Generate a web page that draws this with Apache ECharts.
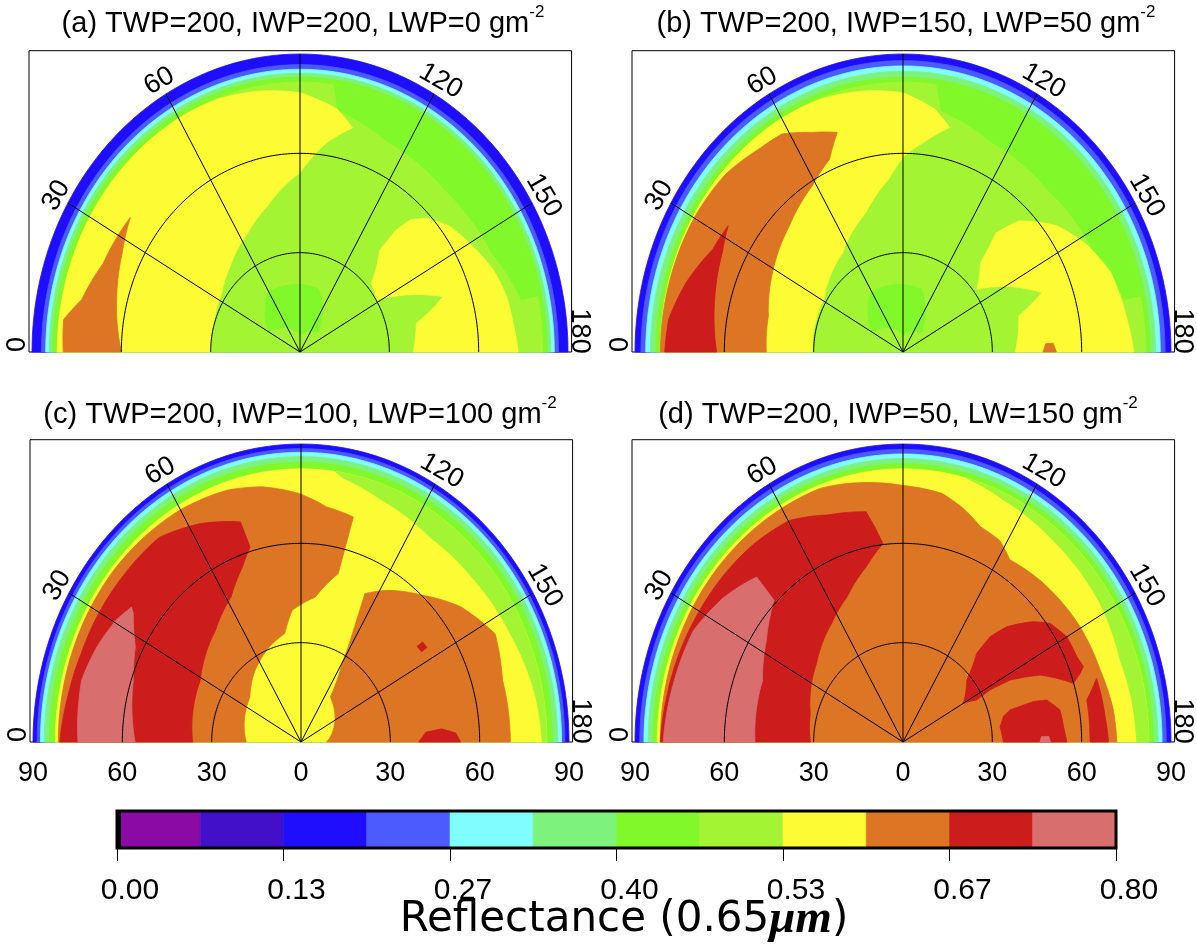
<!DOCTYPE html>
<html>
<head>
<meta charset="utf-8">
<script src="https://cdn.jsdelivr.net/npm/echarts@6/dist/echarts.min.js"></script>
<style>
html,body{margin:0;padding:0;background:#fff;}
#chart{width:1197px;height:950px;}
</style>
</head>
<body>
<div id="chart"></div>
<script>
// ---------------- data ----------------
// reflectance level edges and colours of the colour bar
const levelEdges = [0, 0.0667, 0.1333, 0.2, 0.2667, 0.3333, 0.4, 0.4667, 0.5333, 0.6, 0.6667, 0.7333, 0.8];
const levelColors = ['#8b0aa5', '#4210c8', '#1f0dfe', '#4b5bfe', '#80fdfe', '#7df27d',
                     '#80f82a', '#a3f533', '#fdfb33', '#dc7524', '#cc1c1c', '#d86e6e'];
const colorbarTicks = [0, 0.1333, 0.2667, 0.4, 0.5333, 0.6667, 0.8];
const zenithTicks = [-90, -60, -30, 0, 30, 60, 90];
const azimuthLabels = [0, 30, 60, 120, 150, 180];
const spokeAngles = [30, 60, 90, 120, 150];
const ringRadii = [30, 60];
const outerRadius = 90;

const panelTitles = [
  ['(a) TWP=200, IWP=200, LWP=0 gm', '-2'],
  ['(b) TWP=200, IWP=150, LWP=50 gm', '-2'],
  ['(c) TWP=200, IWP=100, LWP=100 gm', '-2'],
  ['(d) TWP=200, IWP=50, LW=150 gm', '-2']
];
const colorbarTitle = ['Reflectance (0.65', '\u03bcm', ')'];

// limb bands: [outer view zenith, reflectance], painted from the outside in
const limbA = [[90,0.17],[86.8,0.23],[85.4,0.30],[84.2,0.37],[83,0.43],[81.5,0.50]];
const limbB = [[90,0.17],[88,0.23],[86.4,0.30],[84.8,0.37],[83,0.43],[81.5,0.50]];
const limbC = [[90,0.17],[88.6,0.23],[87.5,0.30],[86.2,0.37],[84.5,0.43],[82.5,0.57]];
const limbD = [[90,0.17],[88.4,0.23],[87,0.30],[85.6,0.37],[84,0.43],[82.5,0.57]];

// contour regions: [reflectance, outline as [relative azimuth, view zenith] points]
const regionsA = [
  [0.43, [[98,81.5],[168,81.5],[168,76],[155,71],[135,69],[115,70],[100,74]]],
  [0.43, [[30,12],[59,21],[82,20.5],[108,20],[136,8.5],[90,5]]],
  [0.57, [[0,30],[19,30.4],[34,31.7],[48,35],[64,40],[76,45.4],[90,54.2],[98,63.8],[104.6,70],[99.7,74.4],[90,78.3],[80,80],[70,81.2],[60,81.5],[0,81.5]]],
  [0.63, [[0,60],[16,64],[26.7,66.8],[35.5,70],[22,71.3],[12.2,75],[7,80],[0,79.5]]],
  [0.57, [[180,38],[167.5,40],[160.8,50.9],[148.6,30.1],[139.2,31.7],[131,40.8],[131.3,49.1],[132.8,54.3],[136.4,58.6],[143,63],[151.4,66.3],[159.1,69.5],[166.5,71.4],[173.1,72.1],[180,73.3]]]
];
const regionsB = [
  [0.43, [[98,81.5],[168,81.5],[168,76],[155,71],[135,69],[115,70],[100,74]]],
  [0.43, [[30,12],[59,21],[82,20.5],[108,20],[136,8.5],[90,5]]],
  [0.57, [[0,30.5],[30.9,31],[56,36.2],[73.5,43.9],[84.7,52.4],[90.4,59.2],[96.1,63.6],[103,69.6],[98.3,74.1],[90,78.3],[80,80],[70,81.2],[60,81.5],[0,81.5]]],
  [0.63, [[0,45.9],[13.5,46.5],[31,50.5],[44.9,53.9],[58.7,58.7],[67,63.2],[71.6,69.9],[65.3,73],[58.3,77.4],[51.6,78.1],[42,80.2],[30,81],[0,81.5]]],
  [0.70, [[0,62.6],[14.1,65.2],[26.3,67.7],[33,70],[25.9,71],[16,75.8],[7.2,79.3],[0,80]]],
  [0.57, [[180,37.7],[164.3,40.4],[159,50],[142.7,31.2],[134,37.5],[131,47.7],[134.5,55.5],[143.7,64.3],[152.7,69.9],[161,73.8],[171.7,75.7],[180,77.5]]],
  [0.63, [[180,47],[177,48],[177,50.5],[180,51.5]]]
];
const regionsC = [
  [0.50, [[98,82.5],[180,82.5],[180,81],[170,80],[155,77.5],[140,76],[125,75.5],[110,78],[100,81]]],
  [0.63, [[0,18.4],[38.5,21.9],[52.5,26],[69.6,30.6],[80.5,33.2],[85.7,39.9],[96.2,44],[103.8,52.4],[104.5,70.2],[96.9,71.5],[89.7,75],[80.3,78.2],[71.9,80],[60,81],[40,81.5],[0,81.5]]],
  [0.70, [[0,36.4],[28.8,38.6],[49.6,44.3],[61.8,49.7],[69.6,56.4],[73.8,61.3],[73,69.5],[62.9,74.1],[52.4,78],[40,78],[20,78.5],[10,79.5],[0,81]]],
  [0.77, [[0,55.7],[18.3,59.3],[27.3,62.6],[34.6,68.4],[35.6,70],[30.6,72.2],[22.7,74.3],[14.2,76],[0,74.9]]],
  [0.63, [[180,8.6],[126,16.8],[120.3,27.3],[117.6,38],[115.6,49.7],[122.5,54.3],[132.6,60.2],[142.7,67.4],[153.4,72.9],[164.6,70.2],[180,70.3]]],
  [0.70, [[180,39.5],[176,42],[175.2,47.4],[177,52],[180,53.6]]],
  [0.70, [[143.5,48.5],[146,48.8],[146,51],[143.5,50.8]]]
];
const regionsD = [
  [0.50, [[105,82.5],[180,82.5],[180,78.5],[172.9,78],[161.2,77],[147.7,78.3],[130,79],[115,80.5]]],
  [0.63, [[0,0],[180,0],[180,71.8],[172.2,71.3],[161.8,69.7],[149.7,68.9],[133.3,67.1],[123.1,65.7],[118.1,69],[111.9,70],[105.4,73.7],[100,76.2],[90,77.5],[76.4,80.3],[70,81.5],[0,81.5]]],
  [0.70, [[0,31.1],[15.4,32.3],[39.2,37.5],[56.2,43.1],[66.8,47.7],[76.8,54.3],[83.6,60.3],[79.9,70.6],[70,73],[60.4,77],[50,78],[30,79],[10,80.5],[0,81.5]]],
  [0.77, [[0,49.7],[21.5,50.7],[33.8,55.2],[44.7,60.9],[45.4,70],[36.1,74.3],[25.6,78],[13.6,79],[0,80.5]]],
  [0.70, [[150,23.4],[138.9,28.4],[132.7,36.5],[132.6,43.2],[135,49.2],[140.3,56.9],[144,61],[150,63.5],[156.1,63.8],[159.4,64.7],[160.8,63],[162.8,59.9],[156.3,50.3],[152.5,40.5],[151.7,33.2],[152.8,27.8]]],
  [0.70, [[163.5,67.8],[168.4,63],[180,62.8],[180,69],[173.5,68.3]]],
  [0.70, [[180,33.7],[172,32.9],[167,34.6],[164.9,37.2],[164.4,45.5],[165.3,49.9],[169.6,53.6],[175.1,54.1],[180,55]]],
  [0.77, [[180,46],[178,46.5],[178,49],[180,49.5]]]
];

// ---------------- layout (pixels) ----------------
const PX_X = 2.978, PX_Y = 3.311;      // pixels per degree of view zenith, horizontal / vertical
const XMIN = -91, XMAX = 91.2;
const layout = [
  {limb: limbA, regions: regionsA, cx: 300, bottom: 352, ymax: 91,   tx: 303, ty: 4,   labels: false},
  {limb: limbB, regions: regionsB, cx: 903, bottom: 352, ymax: 91,   tx: 906, ty: 4,   labels: false},
  {limb: limbC, regions: regionsC, cx: 301, bottom: 742, ymax: 91.3, tx: 300, ty: 395, labels: true},
  {limb: limbD, regions: regionsD, cx: 903, bottom: 742, ymax: 91.3, tx: 898, ty: 395, labels: true}
];

const D2R = Math.PI / 180;
function polar(r, phi) { return [-r * Math.cos(phi * D2R), r * Math.sin(phi * D2R)]; }
function colorOf(v) {
  for (let i = 0; i < levelColors.length; i++) if (v < levelEdges[i + 1]) return levelColors[i];
  return levelColors[levelColors.length - 1];
}

function makeShapes(p) {
  // painter's order: limb half-disks from the outside in, then contour regions
  const shapes = p.limb.map(b => [b[1], [[0, 0], [180, 0], [180, b[0]], [0, b[0]]]]);
  return shapes.concat(p.regions);
}
function regionRenderer(shapes) {
  return function (params, api) {
    const shp = shapes[params.dataIndex];
    const outline = shp[1], pts = [];
    for (let k = 0; k < outline.length; k++) {
      const a = outline[k], b = outline[(k + 1) % outline.length];
      const steps = Math.max(1, Math.ceil(Math.abs(b[0] - a[0]) / 2));
      for (let s = 0; s < steps; s++) {
        const t = s / steps;
        pts.push(api.coord(polar(a[1] + (b[1] - a[1]) * t, a[0] + (b[0] - a[0]) * t)));
      }
    }
    const c = colorOf(shp[0]);
    return {type: 'polygon', shape: {points: pts}, style: {fill: c, stroke: c, lineWidth: 0.8}};
  };
}
function renderRing(params, api) {
  const r = api.value(0), pts = [];
  for (let p = 0; p <= 180; p += 1) pts.push(api.coord(polar(r, p)));
  return {type: 'polyline', shape: {points: pts}, style: {stroke: '#000', lineWidth: 1, fill: null}};
}
function renderSpoke(params, api) {
  const a = api.value(0);
  const p0 = api.coord([0, 0]), p1 = api.coord(polar(outerRadius, a));
  return {type: 'line', shape: {x1: p0[0], y1: p0[1], x2: p1[0], y2: p1[1]}, style: {stroke: '#000', lineWidth: 1}};
}
function renderAngleLabel(params, api) {
  const a = api.value(0);
  let pos, align = 'center';
  if (a === 0) { pos = api.coord([-95, 0]); align = 'left'; }
  else if (a === 180) { pos = api.coord([94, -0.5]); align = 'right'; }
  else pos = api.coord(polar(94.5, a));
  return {type: 'text', x: pos[0], y: pos[1], rotation: (90 - a) * D2R,
    style: {text: String(a), fill: '#000', fontSize: 27, fontFamily: 'Liberation Sans', align: align, verticalAlign: 'middle'}};
}

const grids = [], xAxes = [], yAxes = [], series = [], titles = [];
layout.forEach((p, i) => {
  grids.push({left: p.cx + XMIN * PX_X, width: (XMAX - XMIN) * PX_X, top: p.bottom - p.ymax * PX_Y, height: p.ymax * PX_Y,
    show: true, borderColor: '#000', borderWidth: 1, backgroundColor: 'transparent', containLabel: false, outerBoundsMode: 'none'});
  xAxes.push({gridIndex: i, type: 'value', min: XMIN, max: XMAX, show: p.labels,
    axisLine: {show: false}, splitLine: {show: false}, axisTick: {show: false},
    axisLabel: {show: p.labels, customValues: zenithTicks, formatter: v => String(Math.abs(v)),
      fontSize: 27, fontFamily: 'Liberation Sans', color: '#000', margin: 18}});
  yAxes.push({gridIndex: i, type: 'value', min: 0, max: p.ymax, show: false, splitLine: {show: false}});
  const shapes = makeShapes(p);
  series.push({type: 'custom', coordinateSystem: 'cartesian2d', xAxisIndex: i, yAxisIndex: i, silent: true,
    renderItem: regionRenderer(shapes), data: shapes.map((s, k) => [k]), z: 1});
  series.push({type: 'custom', coordinateSystem: 'cartesian2d', xAxisIndex: i, yAxisIndex: i, silent: true,
    renderItem: renderRing, data: ringRadii.map(r => [r]), z: 3});
  series.push({type: 'custom', coordinateSystem: 'cartesian2d', xAxisIndex: i, yAxisIndex: i, silent: true,
    renderItem: renderSpoke, data: spokeAngles.map(a => [a]), z: 3});
  series.push({type: 'custom', coordinateSystem: 'cartesian2d', xAxisIndex: i, yAxisIndex: i, silent: true,
    renderItem: renderAngleLabel, data: azimuthLabels.map(a => [a]), z: 4});
  titles.push({text: '{m|' + panelTitles[i][0] + '}{s|' + panelTitles[i][1] + '}', left: p.tx, top: p.ty,
    textAlign: 'center', padding: 0,
    textStyle: {fontWeight: 'normal', rich: {
      m: {fontFamily: 'Liberation Sans', fontWeight: 'normal', fontSize: 29, lineHeight: 34, color: '#000', verticalAlign: 'bottom'},
      s: {fontFamily: 'Liberation Sans', fontWeight: 'normal', fontSize: 17, lineHeight: 17, color: '#000', verticalAlign: 'top'}}}});
});

// colour bar
const CB = 4;
grids.push({left: 117, top: 811, width: 999, height: 37, show: false, containLabel: false, outerBoundsMode: 'none'});
xAxes.push({gridIndex: CB, type: 'value', min: levelEdges[0], max: levelEdges[levelEdges.length - 1],
  axisLine: {show: false}, splitLine: {show: false},
  axisTick: {show: true, customValues: colorbarTicks, length: 13, lineStyle: {color: '#000', width: 1}},
  axisLabel: {customValues: colorbarTicks, formatter: v => v.toFixed(2), fontSize: 30, fontFamily: 'Liberation Sans',
    color: '#000', margin: 28, padding: [0, 0, 0, 26]}});
yAxes.push({gridIndex: CB, type: 'value', min: 0, max: 1, show: false, splitLine: {show: false}});
series.push({type: 'custom', coordinateSystem: 'cartesian2d', xAxisIndex: CB, yAxisIndex: CB, silent: true, z: 1,
  data: levelColors.map((c, i) => [levelEdges[i], levelEdges[i + 1], i]),
  renderItem: function (params, api) {
    const a = api.coord([api.value(0), 0]), b = api.coord([api.value(1), 1]);
    const c = levelColors[api.value(2)];
    return {type: 'rect', shape: {x: a[0], y: b[1], width: b[0] - a[0], height: a[1] - b[1]}, style: {fill: c, stroke: c, lineWidth: 0.6}};
  }});
series.push({type: 'custom', coordinateSystem: 'cartesian2d', xAxisIndex: CB, yAxisIndex: CB, silent: true, z: 5,
  data: [[levelEdges[0], levelEdges[levelEdges.length - 1]]],
  renderItem: function (params, api) {
    const a = api.coord([api.value(0), 0]), b = api.coord([api.value(1), 1]);
    return {type: 'group', children: [
      {type: 'rect', shape: {x: a[0], y: b[1], width: b[0] - a[0], height: a[1] - b[1]}, style: {fill: null, stroke: '#000', lineWidth: 3}},
      {type: 'line', shape: {x1: a[0] + 2, y1: b[1], x2: a[0] + 2, y2: a[1]}, style: {stroke: '#000', lineWidth: 4}}
    ]};
  }});
titles.push({text: '{n|' + colorbarTitle[0] + '}{u|' + colorbarTitle[1] + '}{n|' + colorbarTitle[2] + '}',
  left: 624, top: 896, textAlign: 'center', padding: 0,
  textStyle: {fontWeight: 'normal', rich: {
    n: {fontFamily: 'DejaVu Sans', fontWeight: 'normal', fontSize: 42, lineHeight: 48, color: '#000'},
    u: {fontFamily: 'Liberation Serif', fontStyle: 'italic', fontWeight: 'bold', fontSize: 47, lineHeight: 48, color: '#000'}}}});

const chart = echarts.init(document.getElementById('chart'), null, {renderer: 'canvas'});
chart.setOption({
  animation: false,
  backgroundColor: '#ffffff',
  title: titles,
  grid: grids,
  xAxis: xAxes,
  yAxis: yAxes,
  series: series
});
</script>
</body>
</html>
